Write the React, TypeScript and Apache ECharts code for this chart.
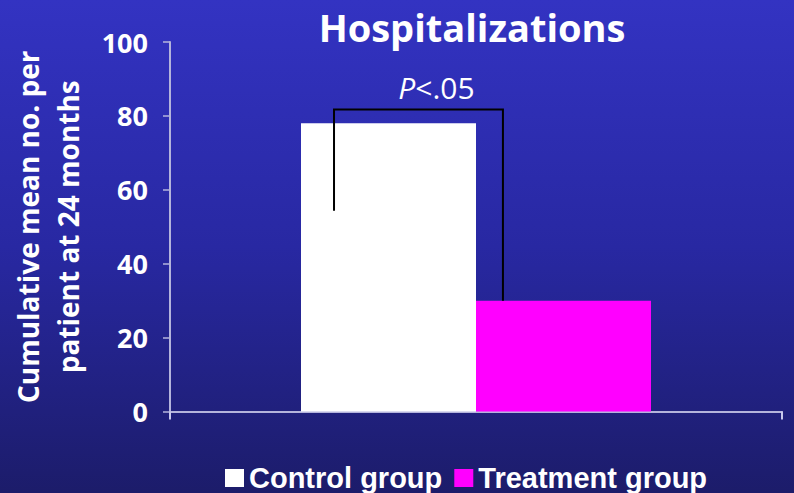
import React, { useEffect, useRef } from "react";
import * as echarts from "echarts";

const categories = ["Hospitalizations"];
const seriesNames = ["Control group", "Treatment group"];
const controlValues = [78];
const treatmentValues = [30];
const yTicks = { min: 0, max: 100, interval: 20 };
// bracket: [top value, left leg bottom value, right leg bottom value]
const bracketValues = [81.7, 54.3, 30];

const FONT = "'Open Sans', 'Noto Sans', sans-serif";

export default function App() {
  const ref = useRef<HTMLDivElement>(null);

  useEffect(() => {
    document.body.style.margin = "0";
    const chart = echarts.init(ref.current!, undefined, { renderer: "svg" });

    const option: any = {
      animation: false,
      backgroundColor: {
        type: "linear",
        x: 0,
        y: 0,
        x2: 0,
        y2: 1,
        colorStops: [
          { offset: 0, color: "#3333c2" },
          { offset: 0.5, color: "#2828a2" },
          { offset: 1, color: "#1c1c6a" },
        ],
      },
      graphic: [
        {
          type: "text",
          x: 472,
          y: 27,
          style: {
            text: "Hospitalizations",
            fill: "#ffffff",
            font: `bold 38px ${FONT}`,
            textAlign: "center",
            textVerticalAlign: "middle",
          },
        },
      ],
      grid: {
        left: 170,
        right: 12,
        top: 42,
        bottom: 81.5,
        containLabel: false,
        outerBoundsMode: "none",
      },
      legend: {
        data: seriesNames,
        left: 220,
        top: 457,
        icon: "rect",
        itemWidth: 19,
        itemHeight: 18,
        itemGap: 12,
        textStyle: {
          color: "#ffffff",
          fontSize: 29,
          lineHeight: 32,
          fontWeight: "bold",
          fontFamily: "'Liberation Sans', Arial, sans-serif",
        },
      },
      xAxis: {
        type: "category",
        data: categories,
        boundaryGap: true,
        axisLine: { lineStyle: { color: "#b4b4dc", width: 2 } },
        axisTick: { show: true, length: 8, lineStyle: { color: "#c8c8ec", width: 2 } },
        axisLabel: { show: false },
      },
      yAxis: {
        type: "value",
        min: yTicks.min,
        max: yTicks.max,
        interval: yTicks.interval,
        name: "Cumulative mean no. per\npatient at 24 months",
        nameLocation: "middle",
        nameGap: 82,
        nameRotate: 90,
        nameTextStyle: {
          color: "#ffffff",
          fontSize: 28,
          fontWeight: "bold",
          fontFamily: FONT,
          lineHeight: 40,
        },
        axisLine: { show: true, lineStyle: { color: "#b4b4dc", width: 2 } },
        axisTick: { show: true, length: 7, lineStyle: { color: "#b4b4dc", width: 1.5 } },
        axisLabel: {
          color: "#ffffff",
          fontSize: 27,
          fontWeight: "bold",
          fontFamily: FONT,
          margin: 22,
        },
        splitLine: { show: false },
      },
      series: [
        {
          name: seriesNames[0],
          type: "bar",
          data: controlValues,
          barWidth: 175,
          barGap: "0%",
          itemStyle: { color: "#ffffff" },
        },
        {
          name: seriesNames[1],
          type: "bar",
          data: treatmentValues,
          barWidth: 175,
          barGap: "0%",
          itemStyle: { color: "#ff00ff" },
        },
        {
          type: "custom",
          name: "bracket",
          data: [[0, ...bracketValues]],
          z: 10,
          renderItem: (params: any, api: any) => {
            const center = api.coord([api.value(0), 0]);
            const band = api.size([1, 0])[0];
            const xl = center[0] - band * 0.232;
            const xr = center[0] + band * 0.044;
            const yTop = api.coord([0, api.value(1)])[1];
            const yL = api.coord([0, api.value(2)])[1];
            const yR = api.coord([0, api.value(3)])[1];
            return {
              type: "group",
              children: [
                {
                  type: "polyline",
                  shape: { points: [[xl, yL], [xl, yTop], [xr, yTop], [xr, yR]] },
                  style: { stroke: "#000000", lineWidth: 2, fill: null },
                },
                {
                  type: "text",
                  style: {
                    x: (xl + xr) / 2 + 18,
                    y: yTop - 22,
                    text: "{i|P}<.05",
                    rich: { i: { fontStyle: "italic", fontSize: 30, fontFamily: FONT, fill: "#ffffff" } },
                    fill: "#ffffff",
                    fontSize: 30,
                    fontFamily: FONT,
                    align: "center",
                    verticalAlign: "middle",
                  },
                },
              ],
            };
          },
        },
      ],
    };
    chart.setOption(option);
    return () => chart.dispose();
  }, []);

  return (
    <div
      ref={ref}
      style={{ position: "absolute", left: 0, top: 0, width: 794, height: 493 }}
    />
  );
}
